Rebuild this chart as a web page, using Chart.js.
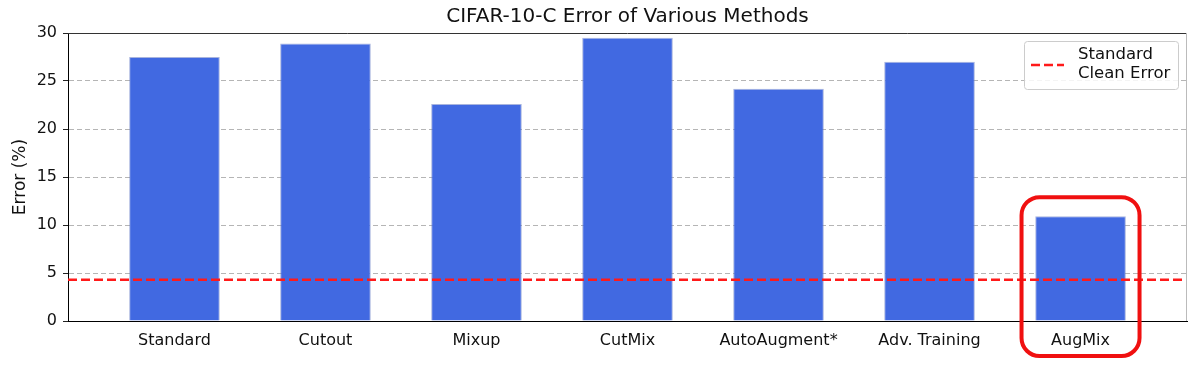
<!DOCTYPE html>
<html>
<head>
<meta charset="utf-8">
<script src="https://cdn.jsdelivr.net/npm/chart.js@4.4.0/dist/chart.umd.min.js"></script>
<style>
  html, body { margin: 0; padding: 0; background: #fff; }
  #wrap { width: 1200px; height: 373px; }
</style>
</head>
<body>
<div id="wrap"><canvas id="errChart" width="1200" height="373"></canvas></div>
<script>
const methods = ['Standard', 'Cutout', 'Mixup', 'CutMix', 'AutoAugment*', 'Adv. Training', 'AugMix'];
const errors = [27.5, 28.9, 22.6, 29.5, 24.2, 27.0, 10.9];
const cleanError = 4.3;
const cleanLabel = 'Standard\nClean Error';
const yTicks = [0, 5, 10, 15, 20, 25, 30];

const X_MIN = -0.705, X_MAX = methods.length - 1 + 0.705;

Chart.defaults.font.family = "'DejaVu Sans', sans-serif";
Chart.defaults.color = '#111';

// spines, legend box and the red box around AugMix
const decorations = {
    id: 'decorations',
    afterLayout(chart) {
        // centre the title over the plot area, not the whole canvas
        if (chart.titleBlock) {
            chart.titleBlock.left = chart.chartArea.left;
            chart.titleBlock.right = chart.chartArea.right;
        }
    },
    afterDatasetsDraw(chart) {
        const { ctx, chartArea: a } = chart;
        ctx.save();
        ctx.lineWidth = 1;
        ctx.strokeStyle = '#333';
        ctx.beginPath(); ctx.moveTo(a.left, a.top + 0.5); ctx.lineTo(a.right, a.top + 0.5); ctx.stroke();
        ctx.strokeStyle = '#bbb';
        ctx.beginPath(); ctx.moveTo(a.right - 0.5, a.top); ctx.lineTo(a.right - 0.5, a.bottom); ctx.stroke();
        ctx.restore();
    },
    afterDraw(chart) {
        const { ctx, chartArea: a, scales } = chart;
        ctx.save();
        // legend
        const lx = a.right - 163, ly = a.top + 8, lw = 154, lh = 48;
        ctx.fillStyle = 'rgba(255,255,255,0.85)';
        ctx.strokeStyle = '#cccccc';
        ctx.lineWidth = 1;
        ctx.beginPath(); ctx.roundRect(lx + 0.5, ly + 0.5, lw, lh, 3); ctx.fill(); ctx.stroke();
        const ds = chart.data.datasets[0];
        ctx.strokeStyle = ds.borderColor;
        ctx.lineWidth = ds.borderWidth;
        ctx.setLineDash(ds.borderDash);
        ctx.beginPath(); ctx.moveTo(lx + 7, ly + 24); ctx.lineTo(lx + 40, ly + 24); ctx.stroke();
        ctx.setLineDash([]);
        ctx.fillStyle = '#111';
        ctx.font = "16.5px 'DejaVu Sans'";
        ctx.textBaseline = 'middle';
        ds.label.split('\n').forEach((line, i) => ctx.fillText(line, lx + 54, ly + 14 + i * 19));
        // highlight around last bar
        const cx = scales.x.getPixelForValue(methods.length - 1);
        const top = scales.y.getPixelForValue(12.9);
        ctx.strokeStyle = '#f01010';
        ctx.lineWidth = 4;
        ctx.beginPath(); ctx.roundRect(cx - 59, top, 118, a.bottom + 35 - top, 18); ctx.stroke();
        ctx.restore();
    }
};

new Chart(document.getElementById('errChart'), {
    data: {
        datasets: [
            {
                type: 'line',
                label: cleanLabel,
                data: [{ x: X_MIN, y: cleanError }, { x: X_MAX, y: cleanError }],
                borderColor: '#ff1a1a',
                borderWidth: 2.5,
                borderDash: [9, 4],
                pointRadius: 0,
                fill: false,
                order: 0
            },
            {
                type: 'bar',
                label: 'CIFAR-10-C Error',
                data: errors.map((v, i) => ({ x: i, y: v })),
                backgroundColor: '#4169e1',
                borderColor: 'rgba(110,130,200,0.6)',
                borderWidth: 1,
                barPercentage: 0.6,
                categoryPercentage: 1,
                order: 1
            }
        ]
    },
    options: {
        responsive: false,
        animation: false,
        layout: { padding: { left: 0, right: 13, top: 0, bottom: 0 } },
        plugins: {
            legend: { display: false },
            tooltip: { enabled: false },
            title: {
                display: true,
                text: 'CIFAR-10-C Error of Various Methods',
                font: { size: 20, weight: 'normal' },
                color: '#111',
                padding: { top: 5, bottom: 4 }
            }
        },
        scales: {
            x: {
                type: 'linear',
                offset: false,
                min: X_MIN,
                max: X_MAX,
                afterBuildTicks: s => { s.ticks = methods.map((_, i) => ({ value: i })); },
                afterFit: s => { s.height = 52; },
                ticks: {
                    autoSkip: false,
                    maxRotation: 0,
                    padding: 2,
                    font: { size: 16 },
                    color: '#111',
                    callback: v => methods[v]
                },
                grid: { display: false, offset: false },
                border: { color: '#000', width: 1 }
            },
            y: {
                min: 0,
                max: 30,
                afterBuildTicks: s => { s.ticks = yTicks.map(v => ({ value: v })); },
                afterFit: s => { s.width = 68; },
                ticks: { padding: 6, font: { size: 16 }, color: '#111' },
                title: {
                    display: true,
                    text: 'Error (%)',
                    font: { size: 17 },
                    color: '#111',
                    padding: { top: 10, bottom: 0 }
                },
                grid: {
                    color: c => (c.tick.value === 0 || c.tick.value === 30) ? 'rgba(0,0,0,0)' : '#b5b5b5',
                    lineWidth: 1,
                    tickLength: 5,
                    tickColor: '#222',
                    tickWidth: 1
                },
                border: { color: '#000', width: 1, dash: [5, 3] }
            }
        }
    },
    plugins: [decorations]
});
</script>
</body>
</html>
